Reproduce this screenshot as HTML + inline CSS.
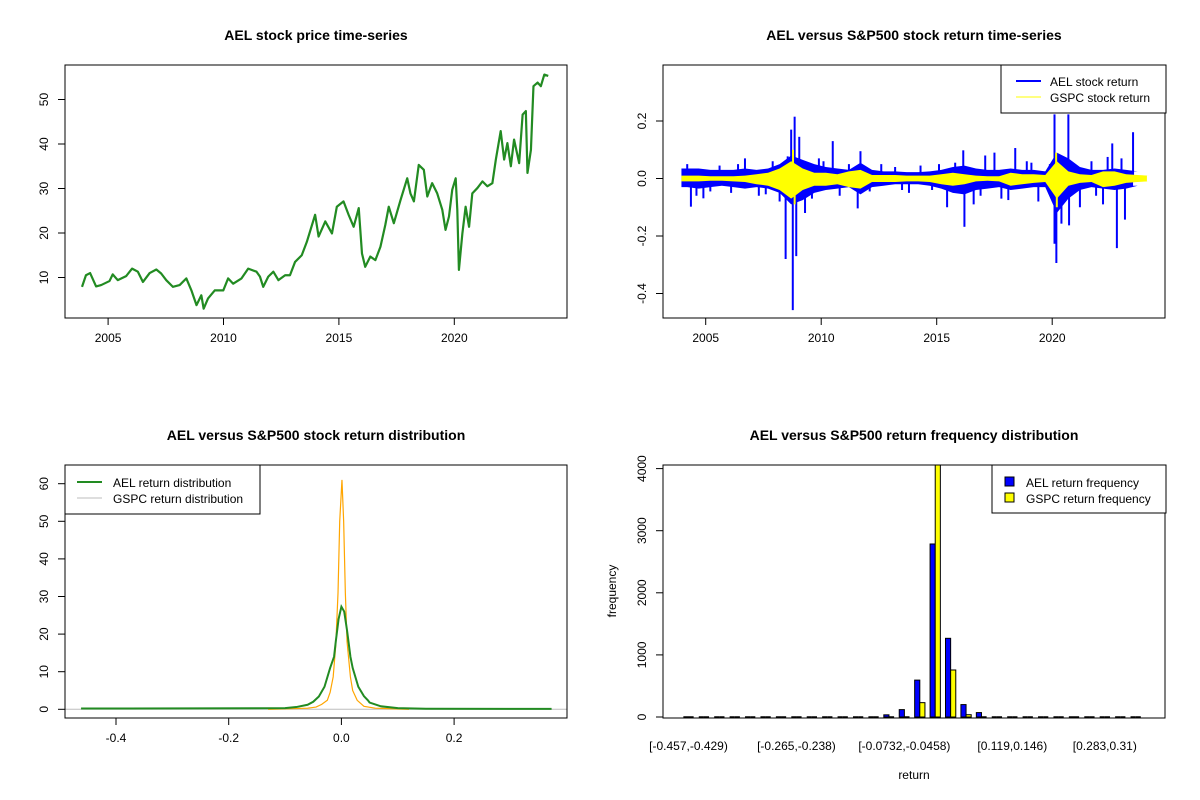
<!DOCTYPE html>
<html><head><meta charset="utf-8"><style>
html,body{margin:0;padding:0;background:#fff;}
svg{display:block;font-family:"Liberation Sans",Arial,sans-serif;}
.t{font-size:14px;font-weight:bold;text-anchor:middle;}
.tk{font-size:12px;fill:#000;}
</style></head><body>
<svg id="svg" width="1200" height="800" viewBox="0 0 1200 800" xmlns="http://www.w3.org/2000/svg"></svg>
<script>
// ---------- Panel 1 data: AEL price ----------
const priceYears = [2003.87,2004.04,2004.22,2004.48,2004.70,2005.06,2005.20,2005.42,2005.78,2006.04,2006.29,2006.51,2006.80,2007.09,2007.30,2007.52,2007.81,2008.10,2008.39,2008.61,2008.83,2009.04,2009.14,2009.33,2009.62,2009.99,2010.20,2010.42,2010.78,2011.07,2011.43,2011.58,2011.72,2011.94,2012.16,2012.38,2012.67,2012.88,2013.10,2013.39,2013.61,2013.97,2014.12,2014.41,2014.70,2014.91,2015.20,2015.42,2015.64,2015.86,2016.00,2016.14,2016.36,2016.58,2016.80,2017.01,2017.16,2017.38,2017.67,2017.96,2018.10,2018.25,2018.46,2018.68,2018.83,2019.04,2019.26,2019.48,2019.62,2019.77,2019.91,2020.06,2020.13,2020.20,2020.35,2020.49,2020.64,2020.78,2021.00,2021.22,2021.43,2021.65,2021.80,2022.01,2022.16,2022.30,2022.45,2022.59,2022.81,2022.96,2023.10,2023.17,2023.32,2023.43,2023.61,2023.75,2023.90,2024.07];
const priceVals = [7.9,10.5,11.0,8.0,8.3,9.2,10.7,9.4,10.3,12.0,11.3,9.0,11.0,11.8,10.9,9.4,7.9,8.3,9.8,7.1,3.8,6.0,3.0,5.3,7.1,7.1,9.8,8.6,9.8,12.0,11.3,10.2,7.9,10.2,11.3,9.4,10.5,10.5,13.5,15.0,18.0,24.1,19.2,22.6,19.9,25.9,27.1,24.1,21.4,25.6,15.4,12.4,14.7,13.9,16.9,21.8,25.9,22.2,27.4,32.3,28.9,27.1,35.3,34.2,28.2,31.2,28.9,25.2,20.7,23.7,29.7,32.3,25.2,11.7,19.9,25.9,21.4,28.9,30.1,31.6,30.5,31.2,36.5,42.9,36.5,40.2,35.0,41.0,35.7,46.6,47.4,33.5,38.7,53.0,53.8,53.0,55.6,55.3];
const p1YTicks = [10,20,30,40,50];
const yearTicks = [2005,2010,2015,2020];

// ---------- Panel 2 data: returns (half-year envelopes from 2004.0) ----------
const aelHi = [.035,.035,.03,.03,.03,.035,.03,.035,.05,.08,.065,.05,.04,.035,.03,.055,.03,.025,.025,.022,.022,.025,.03,.04,.045,.035,.03,.03,.035,.03,.03,.025,.09,.07,.04,.03,.03,.035,.03,.025];
const aelLo = [-.03,-.035,-.03,-.025,-.03,-.035,-.03,-.035,-.05,-.09,-.075,-.05,-.04,-.035,-.03,-.055,-.03,-.025,-.02,-.02,-.02,-.025,-.035,-.05,-.055,-.04,-.035,-.03,-.04,-.035,-.03,-.03,-.12,-.07,-.04,-.03,-.035,-.04,-.035,-.025];
const gspcHi = [.01,.01,.008,.008,.008,.01,.015,.02,.035,.06,.035,.02,.02,.015,.025,.03,.012,.012,.012,.01,.01,.01,.015,.02,.015,.01,.008,.008,.02,.015,.015,.012,.06,.025,.015,.012,.025,.025,.015,.012,.01];
const gspcLo = [-.01,-.01,-.008,-.008,-.01,-.012,-.02,-.025,-.04,-.07,-.04,-.025,-.025,-.02,-.03,-.035,-.012,-.012,-.012,-.01,-.01,-.012,-.02,-.025,-.02,-.01,-.008,-.01,-.025,-.02,-.015,-.012,-.07,-.025,-.015,-.012,-.03,-.025,-.015,-.012,-.01];
const spikeYears = [2004.36,2004.9,2008.46,2008.77,2008.85,2008.7,2008.92,2009.05,2008.55,2010.5,2011.7,2011.58,2016.2,2016.15,2018.4,2020.1,2020.1,2020.18,2020.7,2020.73,2020.4,2022.6,2022.8,2023.15,2023.5,2015.45,2009.3,2017.5,2004.2,2004.6,2005.6,2006.1,2006.7,2007.3,2007.9,2008.2,2009.6,2010.1,2010.8,2011.2,2012.1,2012.6,2013.2,2013.8,2014.3,2014.8,2015.8,2016.6,2017.1,2017.8,2018.9,2019.4,2019.9,2021.2,2021.7,2022.2,2023.0,2005.2,2006.4,2007.6,2009.9,2013.5,2015.1,2016.9,2018.1,2019.1,2021.9,2022.4];
const spikeVals = [-0.098,-0.069,-0.28,-0.458,0.215,0.17,-0.27,0.145,0.077,0.13,0.095,-0.104,-0.168,0.098,0.106,0.223,-0.227,-0.294,0.223,-0.163,-0.157,0.122,-0.242,-0.143,0.161,-0.1,-0.12,0.09,0.05,-0.06,0.045,-0.05,0.07,-0.06,0.06,-0.08,-0.07,0.06,-0.06,0.05,-0.045,0.05,0.04,-0.05,0.045,-0.04,0.055,-0.09,0.08,-0.07,0.06,-0.08,0.05,-0.1,0.06,-0.09,0.07,-0.045,0.05,-0.055,0.07,-0.04,0.05,-0.06,-0.075,0.055,-0.06,0.075];
const gspcSpikeYears = [2008.78,2008.85,2020.17,2020.2];
const gspcSpikeVals = [0.1,-0.09,0.09,-0.1];
const p2YTicks = [-0.4,-0.2,0.0,0.2];

// ---------- Panel 3 data: densities ----------
const aelDx = [-0.462,-0.1,-0.08,-0.06,-0.05,-0.04,-0.03,-0.02,-0.013,-0.01,-0.005,0,0.005,0.01,0.016,0.02,0.03,0.04,0.047,0.05,0.07,0.1,0.15,0.373];
const aelDy = [0.2,0.3,0.6,1.2,2,3.4,6,11,14,18,24,27.3,26,21,14,11,6,3.5,2.4,1.8,0.8,0.3,0.15,0.1];
const gspcDx = [-0.13,-0.06,-0.045,-0.035,-0.025,-0.02,-0.0146,-0.01,-0.006,-0.003,0.001,0.004,0.007,0.01,0.016,0.02,0.028,0.04,0.06,0.12];
const gspcDy = [0,0.3,0.6,1.3,2.4,4.5,8.6,17,31,50,61,50,31,18,8.6,5,2.4,0.8,0.3,0];
const p3XTicks = [-0.4,-0.2,0.0,0.2];
const p3YTicks = [0,10,20,30,40,50,60];

// ---------- Panel 4 data: histogram ----------
const binLabels = ["[-0.457,-0.429)","[-0.429,-0.402)","[-0.402,-0.375)","[-0.375,-0.347)","[-0.347,-0.32)","[-0.32,-0.293)","[-0.293,-0.265)","[-0.265,-0.238)","[-0.238,-0.211)","[-0.211,-0.183)","[-0.183,-0.156)","[-0.156,-0.128)","[-0.128,-0.101)","[-0.101,-0.0732)","[-0.0732,-0.0458)","[-0.0458,-0.0184)","[-0.0184,0.00894)","[0.00894,0.0363)","[0.0363,0.0637)","[0.0637,0.091)","[0.091,0.119)","[0.119,0.146)","[0.146,0.173)","[0.173,0.201)","[0.201,0.228)","[0.228,0.255)","[0.255,0.283)","[0.283,0.31)","[0.31,0.338)","[0.338,0.365)"];
const aelFreq = [1,0,0,0,0,0,1,0,0,0,0,8,15,35,119,594,2786,1267,200,71,15,10,8,1,0,0,0,0,0,1];
const gspcFreq = [0,0,0,0,0,0,0,0,0,0,0,3,5,10,15,231,4058,757,37,15,5,2,2,0,0,0,0,0,0,0];
const shownBinLabels = [0,7,14,21,27];
const p4YTicks = [0,1000,2000,3000,4000];

const NS = "http://www.w3.org/2000/svg";
const svg = document.getElementById('svg');
function mk(tag, attrs, parent){ const e=document.createElementNS(NS,tag); for(const k in attrs) e.setAttribute(k,attrs[k]); (parent||svg).appendChild(e); return e; }
function txt(s, attrs, parent){ const e=mk('text',attrs,parent); e.textContent=s; return e; }

const defs = mk('defs',{});
[[1,65,65],[2,663,65],[3,65,465],[4,663,465]].forEach(([i,x,y])=>{ const c=mk('clipPath',{id:'c'+i},defs); mk('rect',{x:x,y:y,width:502,height:253},c); });

function frame(x,y,name){ const r=mk('rect',{x:x,y:y,width:502,height:253,fill:'none',stroke:'#000','stroke-width':1});

 }
function title(s,cx,cy,name){ const t=txt(s,{x:cx,y:cy,class:'t'});

 }
function xtick(px,y0,label,g){ mk('line',{x1:px,x2:px,y1:y0,y2:y0+7,stroke:'#000'},g); txt(label,{x:px,y:y0+24,class:'tk','text-anchor':'middle'},g); }
function ytick(py,x0,label,g){ mk('line',{x1:x0,x2:x0-7,y1:py,y2:py,stroke:'#000'},g); txt(label,{x:x0-17,y:py,class:'tk','text-anchor':'middle',transform:`rotate(-90 ${x0-17} ${py})`},g); }

// ================= Panel 1 =================
const x1 = yr => 108.1 + (yr-2005)*23.08;
const y1 = v => 277.5 - (v-10)*4.45;
title('AEL stock price time-series',316,40,'price-chart-title');
const g1 = mk('g',{});


mk('line',{x1:x1(2005),x2:x1(2020),y1:318,y2:318,stroke:'#000'},g1);
yearTicks.forEach(t=>xtick(x1(t),318,String(t),g1));
mk('line',{x1:65,x2:65,y1:y1(10),y2:y1(50),stroke:'#000'},g1);
p1YTicks.forEach(t=>ytick(y1(t),65,String(t),g1));
const pl = mk('polyline',{points:priceYears.map((t,i)=>x1(t)+','+y1(priceVals[i])).join(' '),fill:'none',stroke:'#228B22','stroke-width':2.2,'stroke-linejoin':'round','clip-path':'url(#c1)'});


frame(65,65,'price-plot-frame');

// ================= Panel 2 =================
const x2 = yr => 705.7 + (yr-2005)*23.1;
const y2 = v => 178.5 - v*287.5;
title('AEL versus S&P500 stock return time-series',914,40,'return-chart-title');
const g2 = mk('g',{});


mk('line',{x1:x2(2005),x2:x2(2020),y1:318,y2:318,stroke:'#000'},g2);
yearTicks.forEach(t=>xtick(x2(t),318,String(t),g2));
mk('line',{x1:663,x2:663,y1:y2(-0.4),y2:y2(0.2),stroke:'#000'},g2);
p2YTicks.forEach(t=>ytick(y2(t),663,t.toFixed(1),g2));
function band(hi,lo,t0,tEnd,color,name){
  const n=hi.length, pts=[];
  for(let i=0;i<n;i++){ pts.push([x2(t0+i*0.5+0.25),y2(hi[i])]); }
  const top=[[x2(t0),y2(hi[0])]].concat(pts,[[x2(tEnd),y2(hi[n-1])]]);
  const bot=[];
  for(let i=n-1;i>=0;i--){ bot.push([x2(t0+i*0.5+0.25),y2(lo[i])]); }
  const all=top.concat([[x2(tEnd),y2(lo[n-1])]],bot,[[x2(t0),y2(lo[0])]]);
  const p=mk('polygon',{points:all.map(a=>a[0]+','+a[1]).join(' '),fill:color,stroke:'none','clip-path':'url(#c2)'});
  
  
}
band(aelHi,aelLo,2003.95,2023.5,'#0000FF','ael-return-band');
const gs = mk('g',{'clip-path':'url(#c2)'});


spikeYears.forEach((t,i)=>mk('line',{x1:x2(t),x2:x2(t),y1:y2(0),y2:y2(spikeVals[i]),stroke:'#0000FF','stroke-width':2},gs));
band(gspcHi,gspcLo,2003.95,2024.1,'#FFFF00','gspc-return-band');
const gy = mk('g',{'clip-path':'url(#c2)'});


gspcSpikeYears.forEach((t,i)=>mk('line',{x1:x2(t),x2:x2(t),y1:y2(0),y2:y2(gspcSpikeVals[i]),stroke:'#FFFF00','stroke-width':2},gy));
frame(663,65,'return-plot-frame');
const lg2 = mk('g',{});


mk('rect',{x:1001,y:65,width:165,height:48,fill:'#fff',stroke:'#000'},lg2);
mk('line',{x1:1016,x2:1041,y1:81,y2:81,stroke:'#0000FF','stroke-width':2},lg2);
txt('AEL stock return',{x:1050,y:86,class:'tk'},lg2);
mk('line',{x1:1016,x2:1041,y1:97,y2:97,stroke:'#FFFF00','stroke-width':1},lg2);
txt('GSPC stock return',{x:1050,y:102,class:'tk'},lg2);

// ================= Panel 3 =================
const x3 = v => 341.4 + v*563.5;
const y3 = v => 709.3 - v*3.76;
title('AEL versus S&P500 stock return distribution',316,440,'density-chart-title');
const g3 = mk('g',{});


mk('line',{x1:x3(-0.4),x2:x3(0.2),y1:718,y2:718,stroke:'#000'},g3);
p3XTicks.forEach(t=>xtick(x3(t),718,t.toFixed(1),g3));
mk('line',{x1:65,x2:65,y1:y3(0),y2:y3(60),stroke:'#000'},g3);
p3YTicks.forEach(t=>ytick(y3(t),65,String(t),g3));
const zl = mk('line',{x1:65,x2:567,y1:y3(0),y2:y3(0),stroke:'#BEBEBE'});


const dg = mk('polyline',{points:gspcDx.map((v,i)=>x3(v)+','+y3(gspcDy[i])).join(' '),fill:'none',stroke:'#FFA500','stroke-width':1.2,'clip-path':'url(#c3)'});


const da = mk('polyline',{points:aelDx.map((v,i)=>x3(v)+','+y3(aelDy[i])).join(' '),fill:'none',stroke:'#228B22','stroke-width':2,'clip-path':'url(#c3)'});


frame(65,465,'density-plot-frame');
const lg3 = mk('g',{});


mk('rect',{x:65,y:465,width:195,height:49,fill:'#fff',stroke:'#000'},lg3);
mk('line',{x1:77,x2:102,y1:482,y2:482,stroke:'#228B22','stroke-width':2},lg3);
txt('AEL return distribution',{x:113,y:487,class:'tk'},lg3);
mk('line',{x1:77,x2:102,y1:498,y2:498,stroke:'#BEBEBE','stroke-width':1},lg3);
txt('GSPC return distribution',{x:113,y:503,class:'tk'},lg3);

// ================= Panel 4 =================
const pitch = 15.42, bw = 5.14;
const gx = i => 688.5 + i*pitch;   // group center
const y4 = v => 717 - v*0.0621;
title('AEL versus S&P500 return frequency distribution',914,440,'histogram-chart-title');
const g4 = mk('g',{});


mk('line',{x1:663,x2:663,y1:y4(0),y2:y4(4000),stroke:'#000'},g4);
p4YTicks.forEach(t=>ytick(y4(t),663,String(t),g4));
shownBinLabels.forEach(i=>txt(binLabels[i],{x:gx(i),y:750,class:'tk','text-anchor':'middle'},g4));
const xl = txt('return',{x:914,y:779,class:'tk','text-anchor':'middle'});


const yl = txt('frequency',{x:616,y:591,class:'tk','text-anchor':'middle',transform:'rotate(-90 616 591)'});


const bars = mk('g',{'clip-path':'url(#c4)'});


function bar(x,v,fill,name){
  let e;
  const h = y4(0)-y4(v);
  if(h < 1){ e = mk('line',{x1:x,x2:x+bw,y1:y4(0),y2:y4(0),stroke:'#000','stroke-width':1.5},bars); }
  else { e = mk('rect',{x:x,y:y4(v),width:bw,height:h,fill:fill,stroke:'#000','stroke-width':1},bars); }
  
  
}
binLabels.forEach((lab,i)=>{
  const c = gx(i);
  bar(c-bw,aelFreq[i],'#0000FF','bar-ael-'+i);
  bar(c,gspcFreq[i],'#FFFF00','bar-gspc-'+i);
});
frame(663,465,'histogram-plot-frame');
const lg4 = mk('g',{});


mk('rect',{x:992,y:465,width:174,height:48,fill:'#fff',stroke:'#000'},lg4);
mk('rect',{x:1005,y:477,width:9,height:9,fill:'#0000FF',stroke:'#000'},lg4);
txt('AEL return frequency',{x:1026,y:487,class:'tk'},lg4);
mk('rect',{x:1005,y:493,width:9,height:9,fill:'#FFFF00',stroke:'#000'},lg4);
txt('GSPC return frequency',{x:1026,y:503,class:'tk'},lg4);
</script>
</body></html>
